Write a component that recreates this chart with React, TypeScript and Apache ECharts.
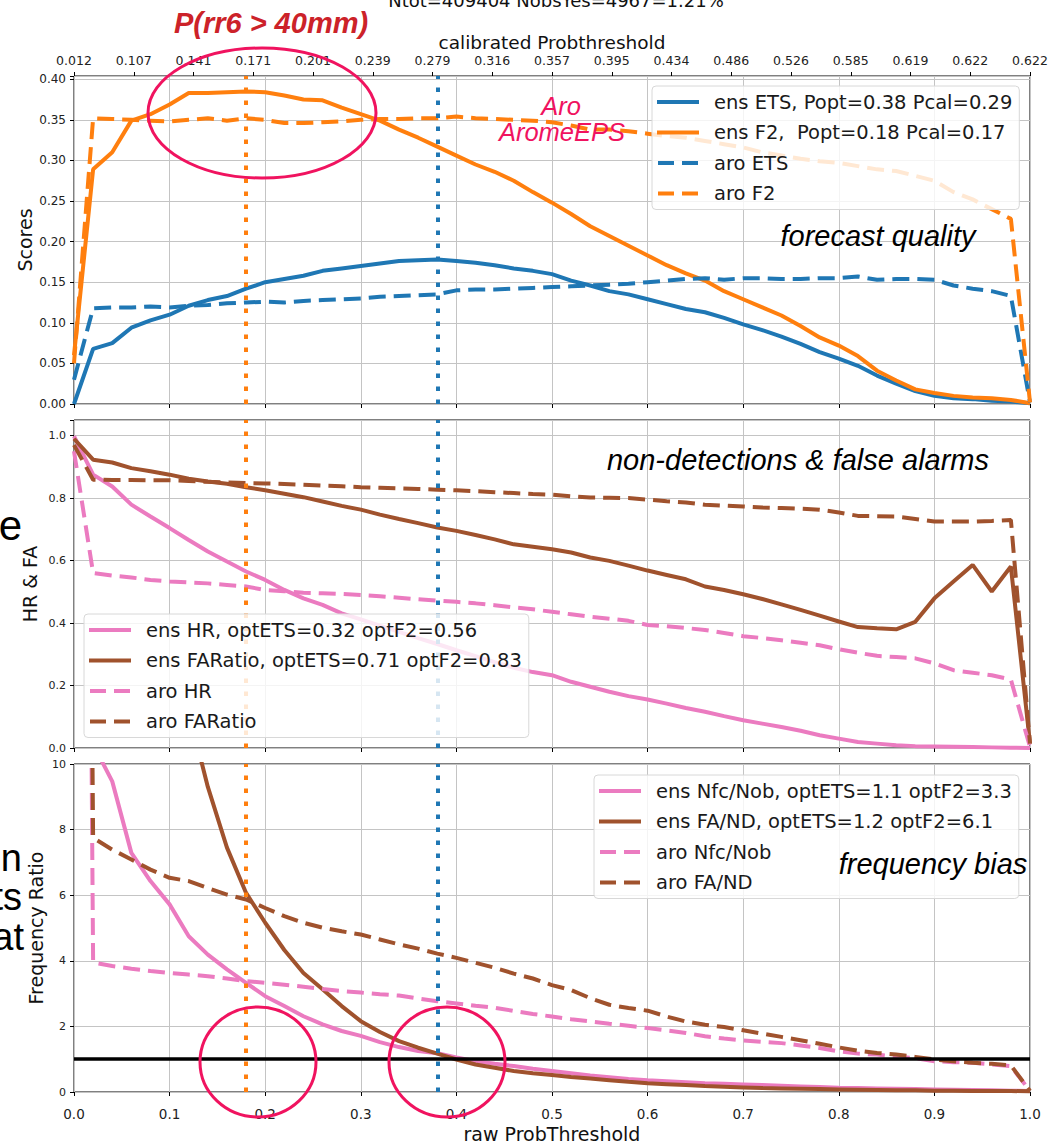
import React, { useEffect, useRef } from "react";
import * as echarts from "echarts";

// ---------------- data ----------------
const rawThreshold = [
  0.0, 0.02, 0.04, 0.06, 0.08, 0.1, 0.12, 0.14, 0.16, 0.18,
  0.2, 0.22, 0.24, 0.26, 0.28, 0.3, 0.32, 0.34, 0.36, 0.38,
  0.4, 0.42, 0.44, 0.46, 0.48, 0.5, 0.52, 0.54, 0.56, 0.58,
  0.6, 0.62, 0.64, 0.66, 0.68, 0.7, 0.72, 0.74, 0.76, 0.78,
  0.8, 0.82, 0.84, 0.86, 0.88, 0.9, 0.92, 0.94, 0.96, 0.98,
  1.0,
];

const calibratedTickLabels = [
  "0.012", "0.107", "0.141", "0.171", "0.201", "0.239", "0.279", "0.316", "0.357",
  "0.395", "0.434", "0.486", "0.526", "0.585", "0.619", "0.622", "0.622",
];

const ensETS = [
  0.0, 0.068, 0.075, 0.094, 0.103, 0.11, 0.121, 0.128, 0.133, 0.142,
  0.15, 0.154, 0.158, 0.164, 0.167, 0.17, 0.173, 0.176, 0.177, 0.178,
  0.176, 0.174, 0.171, 0.167, 0.164, 0.16, 0.152, 0.146, 0.139, 0.135,
  0.129, 0.123, 0.117, 0.113, 0.106, 0.098, 0.091, 0.083, 0.074, 0.064,
  0.056, 0.047, 0.035, 0.025, 0.016, 0.01, 0.007, 0.006, 0.004, 0.003,
  0.001,
];
const ensF2 = [
  0.06, 0.289, 0.31, 0.349, 0.357, 0.369, 0.383, 0.383, 0.384, 0.385,
  0.384, 0.38, 0.375, 0.374, 0.365, 0.357, 0.349, 0.338, 0.328, 0.317,
  0.306, 0.295, 0.286, 0.275, 0.261, 0.248, 0.234, 0.219, 0.207, 0.195,
  0.183, 0.171, 0.161, 0.152, 0.139, 0.129, 0.119, 0.109, 0.096, 0.082,
  0.072, 0.059, 0.041, 0.029, 0.018, 0.0135, 0.01, 0.008, 0.007, 0.005,
  0.001,
];
const aroETS = [
  0.03, 0.118, 0.119, 0.119, 0.12, 0.119, 0.121, 0.122, 0.124, 0.125,
  0.126, 0.125, 0.127, 0.128, 0.129, 0.13, 0.132, 0.133, 0.134, 0.135,
  0.14, 0.141, 0.141, 0.142, 0.143, 0.144, 0.145, 0.146, 0.147, 0.148,
  0.15, 0.152, 0.154, 0.155, 0.153, 0.155, 0.155, 0.154, 0.154, 0.155,
  0.155, 0.157, 0.153, 0.154, 0.154, 0.153, 0.146, 0.142, 0.139, 0.133,
  0.002,
];
const aroF2 = [
  0.05, 0.352, 0.351, 0.35, 0.349, 0.348, 0.35, 0.352, 0.349, 0.352,
  0.35, 0.346, 0.346, 0.347, 0.348, 0.35, 0.351, 0.351, 0.352, 0.352,
  0.354, 0.352, 0.351, 0.35, 0.349, 0.347, 0.343, 0.338, 0.338, 0.336,
  0.333, 0.33, 0.328, 0.324, 0.32, 0.316, 0.31, 0.306, 0.302, 0.299,
  0.297, 0.293, 0.289, 0.287, 0.281, 0.275, 0.261, 0.252, 0.24, 0.228,
  0.002,
];

const ensHR = [
  0.998, 0.875, 0.837, 0.779, 0.741, 0.704, 0.666, 0.629, 0.597, 0.565,
  0.538, 0.506, 0.479, 0.458, 0.431, 0.412, 0.392, 0.372, 0.352, 0.333,
  0.313, 0.294, 0.275, 0.257, 0.243, 0.233, 0.212, 0.196, 0.18, 0.166,
  0.155, 0.142, 0.128, 0.116, 0.102, 0.089, 0.078, 0.067, 0.055, 0.041,
  0.03, 0.019, 0.014, 0.009, 0.006, 0.005, 0.004, 0.003, 0.002, 0.001,
  0.0,
];
const ensFARatio = [
  0.99, 0.923, 0.914, 0.896, 0.886, 0.875, 0.862, 0.853, 0.846, 0.835,
  0.825, 0.814, 0.803, 0.789, 0.775, 0.763, 0.747, 0.733, 0.72, 0.706,
  0.695, 0.682, 0.668, 0.652, 0.644, 0.636, 0.626, 0.61, 0.599, 0.584,
  0.568, 0.554, 0.54, 0.517, 0.506, 0.492, 0.477, 0.46, 0.442, 0.424,
  0.405, 0.387, 0.383, 0.38, 0.404, 0.479, 0.533, 0.586, 0.501, 0.581,
  0.014,
];
const aroHR = [
  0.95, 0.56, 0.552, 0.546, 0.538, 0.533, 0.53, 0.527, 0.522, 0.517,
  0.506, 0.502, 0.497, 0.495, 0.493, 0.49, 0.486, 0.481, 0.476, 0.472,
  0.468, 0.463, 0.457, 0.45, 0.444, 0.436, 0.428, 0.42, 0.414, 0.407,
  0.394, 0.39, 0.384, 0.378, 0.368, 0.358, 0.352, 0.345, 0.337, 0.329,
  0.316, 0.305, 0.295, 0.291, 0.287, 0.271, 0.249, 0.241, 0.233, 0.219,
  0.003,
];
const aroFARatio = [
  0.97, 0.859, 0.858, 0.858, 0.857, 0.857, 0.855, 0.852, 0.85, 0.848,
  0.847, 0.845, 0.843, 0.84, 0.838, 0.835, 0.833, 0.831, 0.829, 0.827,
  0.825, 0.822, 0.819, 0.816, 0.813, 0.811, 0.806, 0.802, 0.801, 0.8,
  0.795, 0.79, 0.786, 0.779, 0.776, 0.773, 0.77, 0.768, 0.766, 0.763,
  0.754, 0.743, 0.742, 0.741, 0.733, 0.725, 0.725, 0.725, 0.727, 0.73,
  0.014,
];

const ensNfcNob = [
  80, 10.6, 9.47, 7.29, 6.43, 5.72, 4.75, 4.19, 3.74, 3.33,
  2.92, 2.62, 2.31, 2.06, 1.86, 1.71, 1.52, 1.37, 1.25, 1.18,
  1.05, 0.94, 0.86, 0.79, 0.71, 0.64, 0.57, 0.5, 0.45, 0.4,
  0.36, 0.33, 0.3, 0.27, 0.25, 0.23, 0.21, 0.19, 0.17, 0.15,
  0.13, 0.12, 0.11, 0.1, 0.09, 0.08, 0.07, 0.06, 0.05, 0.04,
  0.03,
];
const ensFAND = [
  100, 45, 30, 22, 17, 13.5, 11.6, 9.3, 7.45, 6.07,
  5.16, 4.33, 3.63, 3.13, 2.62, 2.16, 1.83, 1.55, 1.35, 1.17,
  0.99, 0.84, 0.74, 0.64, 0.57, 0.52, 0.46, 0.41, 0.36, 0.31,
  0.27, 0.24, 0.21, 0.18, 0.16, 0.14, 0.12, 0.11, 0.1, 0.09,
  0.08, 0.07, 0.06, 0.05, 0.05, 0.04, 0.04, 0.03, 0.03, 0.03,
  0.02,
];
const aroNfcNob = [
  80, 3.95, 3.84, 3.76, 3.69, 3.63, 3.58, 3.53, 3.46, 3.38,
  3.33, 3.27, 3.21, 3.14, 3.08, 3.03, 2.98, 2.94, 2.85, 2.77,
  2.7, 2.63, 2.57, 2.47, 2.38, 2.3, 2.22, 2.15, 2.08, 2.02,
  1.95, 1.88, 1.8, 1.7, 1.63, 1.57, 1.53, 1.49, 1.42, 1.34,
  1.24, 1.17, 1.14, 1.08, 1.03, 0.94, 0.91, 0.89, 0.84, 0.79,
  0.03,
];
const aroFAND = [
  80, 7.75, 7.39, 7.09, 6.78, 6.53, 6.43, 6.22, 6.02, 5.87,
  5.61, 5.36, 5.16, 5.01, 4.9, 4.8, 4.65, 4.5, 4.37, 4.22,
  4.09, 3.94, 3.79, 3.61, 3.46, 3.26, 3.11, 2.86, 2.66, 2.56,
  2.48, 2.3, 2.15, 2.05, 1.98, 1.88, 1.78, 1.68, 1.58, 1.47,
  1.36, 1.26, 1.19, 1.14, 1.07, 0.99, 0.94, 0.89, 0.86, 0.81,
  0.03,
];

const optF2Raw = 0.18;
const optETSRaw = 0.38;
const unitRatio = 1;

const seriesNames1 = ["ens ETS, Popt=0.38 Pcal=0.29", "ens F2,  Popt=0.18 Pcal=0.17", "aro ETS", "aro F2"];
const seriesNames2 = ["ens HR, optETS=0.32 optF2=0.56", "ens FARatio, optETS=0.71 optF2=0.83", "aro HR", "aro FARatio"];
const seriesNames3 = ["ens Nfc/Nob, optETS=1.1 optF2=3.3", "ens FA/ND, optETS=1.2 optF2=6.1", "aro Nfc/Nob", "aro FA/ND"];

// ---------------- styling ----------------
const BLUE = "#1f77b4";
const ORANGE = "#ff7f0e";
const PINK = "#eb7bc0";
const BROWN = "#a0522d";
const ANNOT = "#f0135f";
const FONT = "DejaVu Sans";
const SLIDE_FONT = "Liberation Sans";
const DASH = [17, 8];
const DOT = [4.5, 8.5];
const SOLID_ICON = "path://M0,0H42V4H0Z";
const DASH_ICON = "path://M0,0H16V4H0Z M24,0H40V4H24Z";

const GRID_LEFT = 74;
const GRID_WIDTH = 956;

function pairs(ys: number[]) {
  return rawThreshold.map((x, i) => [x, ys[i]]);
}

function fmt(step: number, digits: number) {
  return (v: number) => {
    const k = v / step;
    return Math.abs(k - Math.round(k)) < 1e-6 ? v.toFixed(digits) : "";
  };
}

function lineSeries(name: string, data: number[], color: string, dashed: boolean, gi: number, width = 4) {
  return {
    name,
    type: "line",
    xAxisIndex: gi === 0 ? 0 : gi + 1,
    yAxisIndex: gi,
    data: pairs(data),
    symbol: "none",
    showSymbol: false,
    clip: true,
    lineStyle: { color, width, type: dashed ? DASH : "solid", cap: "butt" },
    itemStyle: { color },
    z: 3,
  };
}

function vlineSeries(gi: number) {
  return {
    type: "line",
    xAxisIndex: gi === 0 ? 0 : gi + 1,
    yAxisIndex: gi,
    data: [],
    silent: true,
    z: 4,
    markLine: {
      silent: true,
      symbol: "none",
      animation: false,
      label: { show: false },
      data: [
        { xAxis: optF2Raw, lineStyle: { color: ORANGE, width: 4, type: DOT, cap: "butt" } },
        { xAxis: optETSRaw, lineStyle: { color: BLUE, width: 4, type: DOT, cap: "butt" } },
      ],
    },
  };
}

function legendCfg(names: string[], left: number, top: number) {
  return {
    data: names.map((n) => ({ name: n, icon: n.startsWith("aro") ? DASH_ICON : SOLID_ICON })),
    left,
    top,
    orient: "vertical",
    itemWidth: 42,
    itemHeight: 4,
    itemGap: 10.5,
    padding: [6, 7, 6, 5],
    backgroundColor: "rgba(255,255,255,0.82)",
    borderColor: "#d8d8d8",
    borderWidth: 1,
    borderRadius: 4,
    selectedMode: false,
    symbolKeepAspect: true,
    textStyle: { fontSize: 19.5, fontFamily: FONT, color: "#1a1a1a", padding: [0, 0, 0, 10] },
    z: 10,
  };
}

const axisLabelStyle = { fontFamily: FONT, color: "#222" };
const splitLineStyle = { show: true, lineStyle: { color: "#c4c4c4", width: 1 } };

function bottomX(gi: number, withLabels: boolean) {
  return {
    type: "value",
    gridIndex: gi,
    position: "bottom",
    min: 0,
    max: 1,
    interval: 0.1,
    axisLine: { show: false },
    axisTick: { show: true, length: 4, lineStyle: { color: "#000" } },
    splitLine: splitLineStyle,
    axisLabel: withLabels
      ? { ...axisLabelStyle, fontSize: 13.5, margin: 15, formatter: fmt(0.1, 1) }
      : { show: false },
    name: withLabels ? "raw ProbThreshold" : "",
    nameLocation: "middle",
    nameGap: 32,
    nameMoveOverlap: false,
    nameTextStyle: { fontFamily: FONT, fontSize: 19, color: "#111" },
  };
}

function yAx(gi: number, max: number, interval: number, digits: number, name: string, nameGap: number, fontSize: number) {
  return {
    type: "value",
    gridIndex: gi,
    min: 0,
    max,
    interval,
    axisLine: { show: false },
    axisTick: { show: true, length: 4, lineStyle: { color: "#000" } },
    splitLine: splitLineStyle,
    axisLabel: { ...axisLabelStyle, fontSize, margin: 8, formatter: fmt(interval, digits) },
    name,
    nameLocation: "middle",
    nameGap,
    nameMoveOverlap: false,
    nameTextStyle: { fontFamily: FONT, fontSize: 19, color: "#111" },
  };
}

function txt(text: string, x: number, y: number, opts: any) {
  return {
    type: "text",
    z: 100,
    style: {
      text,
      x,
      y,
      textAlign: opts.align || "center",
      textVerticalAlign: "middle",
      fill: opts.color || "#000",
      fontSize: opts.size || 24,
      fontFamily: opts.family || SLIDE_FONT,
      fontStyle: opts.italic ? "italic" : "normal",
      fontWeight: opts.bold ? "bold" : "normal",
    },
  };
}

function ell(cx: number, cy: number, rx: number, ry: number) {
  return {
    type: "ellipse",
    z: 100,
    shape: { cx, cy, rx, ry },
    style: { fill: "none", stroke: ANNOT, lineWidth: 3 },
  };
}

export default function App() {
  const ref = useRef<HTMLDivElement>(null);

  useEffect(() => {
    if (!ref.current) return;
    const chart = echarts.init(ref.current, undefined, { renderer: "svg" });

    const grids = [
      { left: GRID_LEFT, width: GRID_WIDTH, top: 76, height: 328 },
      { left: GRID_LEFT, width: GRID_WIDTH, top: 420, height: 328 },
      { left: GRID_LEFT, width: GRID_WIDTH, top: 764, height: 329 },
    ].map((g) => ({ ...g, show: true, borderColor: "#000", borderWidth: 1, backgroundColor: "transparent" }));

    const option: any = {
      animation: false,
      backgroundColor: "#fff",
      grid: grids,
      xAxis: [
        bottomX(0, false),
        {
          type: "value",
          gridIndex: 0,
          position: "top",
          min: 0,
          max: 1,
          interval: 0.0625,
          axisLine: { show: false },
          axisTick: { show: true, length: 4, lineStyle: { color: "#000" } },
          splitLine: { show: false },
          axisLabel: {
            ...axisLabelStyle,
            fontSize: 12.5,
            margin: 9,
            formatter: (v: number) => calibratedTickLabels[Math.round(v / 0.0625)] ?? "",
          },
          name: "calibrated Probthreshold",
          nameLocation: "middle",
          nameGap: 24,
          nameMoveOverlap: false,
          nameTextStyle: { fontFamily: FONT, fontSize: 18.5, color: "#111" },
        },
        bottomX(1, false),
        bottomX(2, true),
      ],
      yAxis: [
        yAx(0, 0.404, 0.05, 2, "Scores", 40, 12),
        yAx(1, 1.05, 0.2, 1, "HR & FA", 35, 11),
        yAx(2, 10, 2, 0, "Frequency Ratio", 29, 11),
      ],
      legend: [
        legendCfg(seriesNames1, 652, 86),
        legendCfg(seriesNames2, 84, 614),
        legendCfg(seriesNames3, 594, 775),
      ],
      series: [
        lineSeries(seriesNames1[0], ensETS, BLUE, false, 0),
        lineSeries(seriesNames1[1], ensF2, ORANGE, false, 0),
        lineSeries(seriesNames1[2], aroETS, BLUE, true, 0),
        lineSeries(seriesNames1[3], aroF2, ORANGE, true, 0),
        vlineSeries(0),
        lineSeries(seriesNames2[0], ensHR, PINK, false, 1),
        lineSeries(seriesNames2[1], ensFARatio, BROWN, false, 1),
        lineSeries(seriesNames2[2], aroHR, PINK, true, 1),
        lineSeries(seriesNames2[3], aroFARatio, BROWN, true, 1),
        vlineSeries(1),
        {
          type: "line",
          xAxisIndex: 3,
          yAxisIndex: 2,
          data: [],
          silent: true,
          z: 2,
          markLine: {
            silent: true,
            symbol: "none",
            label: { show: false },
            data: [{ yAxis: unitRatio, lineStyle: { color: "#000", width: 3.5, type: "solid" } }],
          },
        },
        lineSeries(seriesNames3[0], ensNfcNob, PINK, false, 2),
        lineSeries(seriesNames3[1], ensFAND, BROWN, false, 2),
        lineSeries(seriesNames3[2], aroNfcNob, PINK, true, 2),
        lineSeries(seriesNames3[3], aroFAND, BROWN, true, 2),
        vlineSeries(2),
      ],
      graphic: [
        txt("Ntot=409404 NobsYes=4967=1.21%", 556, 0, { size: 18, family: FONT, color: "#111" }),
        txt("P(rr6 > 40mm)", 271, 23, { size: 29, bold: true, italic: true, color: "#cc2229" }),
        txt("Aro", 561, 106, { size: 25.5, italic: true, color: ANNOT }),
        txt("AromeEPS", 562, 132, { size: 25.5, italic: true, color: ANNOT }),
        txt("forecast quality", 878, 236, { size: 29, italic: true }),
        txt("non-detections & false alarms", 798, 460, { size: 29, italic: true }),
        txt("frequency bias", 933, 864, { size: 29, italic: true }),
        txt("e", 22, 525, { size: 42, align: "right" }),
        txt("n", 22, 858, { size: 38, align: "right" }),
        txt("ts", 22, 897, { size: 38, align: "right" }),
        txt("at", 24, 937, { size: 38, align: "right" }),
        ell(262, 113, 114, 65),
        ell(258, 1062, 58, 55),
        ell(447, 1062, 58, 55),
      ],
    };

    chart.setOption(option);
    return () => chart.dispose();
  }, []);

  return (
    <div
      ref={ref}
      style={{ position: "absolute", left: 0, top: 0, width: 1059, height: 1144, background: "#fff" }}
    />
  );
}
